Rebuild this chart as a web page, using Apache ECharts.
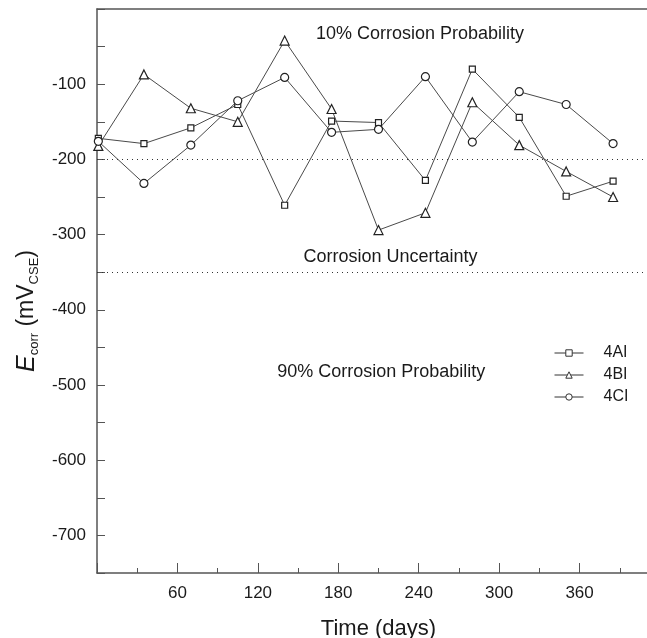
<!DOCTYPE html>
<html>
<head>
<meta charset="utf-8">
<script src="https://cdn.jsdelivr.net/npm/echarts@6/dist/echarts.min.js"></script>
<style>html,body{margin:0;padding:0;background:#fff;}#c{width:647px;height:638px;}</style>
</head>
<body>
<div id="c"></div>
<script>
const days = [1, 35, 70, 105, 140, 175, 210, 245, 280, 315, 350, 385];
const s4AI = [-172, -179, -158, -127, -261, -149, -151, -228, -80, -144, -249, -229];
const s4BI = [-182, -87, -132, -150, -42, -133, -294, -271, -124, -181, -216, -250];
const s4CI = [-176, -232, -181, -122, -91, -164, -160, -90, -177, -110, -127, -179];
const seriesNames = ['4AI', '4BI', '4CI'];
const xTickLabels = [60, 120, 180, 240, 300, 360];
const yTickLabels = [-700, -600, -500, -400, -300, -200, -100];
const thresholds = [-200, -350];
const notes = [
  {text: '10% Corrosion Probability', x: 241, y: -33},
  {text: 'Corrosion Uncertainty', x: 219, y: -330},
  {text: '90% Corrosion Probability', x: 212, y: -483}
];

const chart = echarts.init(document.getElementById('c'));
const FONT = '"Liberation Sans", Arial, sans-serif';
const axisCol = '#555';
const textCol = '#1a1a1a';
const pair = arr => days.map((d, i) => [d, arr[i]]);

const symbols = ['rect', 'triangle', 'circle'];
const sizes = [6, 9, 8];
const dataSets = [s4AI, s4BI, s4CI];

const series = seriesNames.map((n, k) => ({
  name: n,
  type: 'line',
  data: pair(dataSets[k]),
  symbol: symbols[k],
  symbolSize: sizes[k],
  showAllSymbol: true,
  lineStyle: {color: '#4a4a4a', width: 1},
  itemStyle: {color: '#fff', borderColor: '#222', borderWidth: 1.2},
  emphasis: {disabled: true},
  animation: false,
  z: 3
}));

series.push({
  name: 'refs',
  type: 'line',
  data: [],
  animation: false,
  markLine: {
    silent: true,
    symbol: 'none',
    label: {show: false},
    lineStyle: {color: '#333', type: [1, 4], width: 1},
    data: thresholds.map(v => ({yAxis: v}))
  },
  markPoint: {
    silent: true,
    symbol: 'circle',
    symbolSize: 0,
    label: {show: true, position: 'inside', color: textCol, fontSize: 18, fontFamily: FONT,
      formatter: p => p.name},
    data: notes.map(o => ({name: o.text, coord: [o.x, o.y]}))
  }
});

chart.setOption({
  animation: false,
  backgroundColor: '#fff',
  grid: {left: 97, right: -13, top: 9, bottom: 65, containLabel: false, outerBoundsMode: 'none'},
  legend: {
    data: seriesNames,
    orient: 'vertical',
    left: 549,
    top: 340,
    itemWidth: 29,
    itemHeight: 8,
    itemGap: 6,
    lineStyle: {width: 1, color: '#333'},
    itemStyle: {borderWidth: 1, borderColor: '#333', color: '#fff'},
    textStyle: {fontSize: 16, color: textCol, fontFamily: FONT, padding: [0, 0, 0, 15]},
    selectedMode: false
  },
  xAxis: [{
    type: 'value', min: 0, max: 420, interval: 60, position: 'bottom',
    name: 'Time (days)', nameLocation: 'middle', nameGap: 45,
    nameTextStyle: {fontSize: 22, color: textCol, fontFamily: FONT},
    axisLine: {show: true, onZero: false, lineStyle: {color: axisCol, width: 1.5}},
    axisTick: {show: true, inside: true, length: 10, lineStyle: {color: axisCol}},
    minorTick: {show: true, splitNumber: 2, length: 5, lineStyle: {color: axisCol}},
    axisLabel: {show: true, fontSize: 17, color: textCol, fontFamily: FONT, margin: 12,
      formatter: v => xTickLabels.includes(v) ? String(v) : ''},
    splitLine: {show: false}
  }, {
    type: 'value', min: 0, max: 420, interval: 60, position: 'top',
    axisLine: {show: true, onZero: false, lineStyle: {color: axisCol, width: 1.5}},
    axisTick: {show: false}, axisLabel: {show: false}, splitLine: {show: false}
  }],
  yAxis: [{
    type: 'value', min: -750, max: 0, interval: 50, position: 'left',
    name: '{e|E}{sub|corr}{n| (mV}{sub|CSE}{n|)}',
    nameLocation: 'middle', nameRotate: 90, nameGap: 55,
    nameTextStyle: {
      color: textCol, fontFamily: FONT, padding: [0, 40, 0, 0],
      rich: {
        e: {fontSize: 25, fontStyle: 'italic', fontFamily: FONT, color: textCol},
        n: {fontSize: 23, fontFamily: FONT, color: textCol},
        sub: {fontSize: 13, fontFamily: FONT, color: textCol, padding: [16, 0, 0, 0]}
      }
    },
    axisLine: {show: true, onZero: false, lineStyle: {color: axisCol, width: 1.5}},
    axisTick: {show: true, inside: true, length: 8, lineStyle: {color: axisCol}},
    axisLabel: {show: true, fontSize: 17, color: textCol, fontFamily: FONT, margin: 11,
      formatter: v => yTickLabels.includes(v) ? String(v) : ''},
    splitLine: {show: false}
  }],
  series: series
});
</script>
</body>
</html>
